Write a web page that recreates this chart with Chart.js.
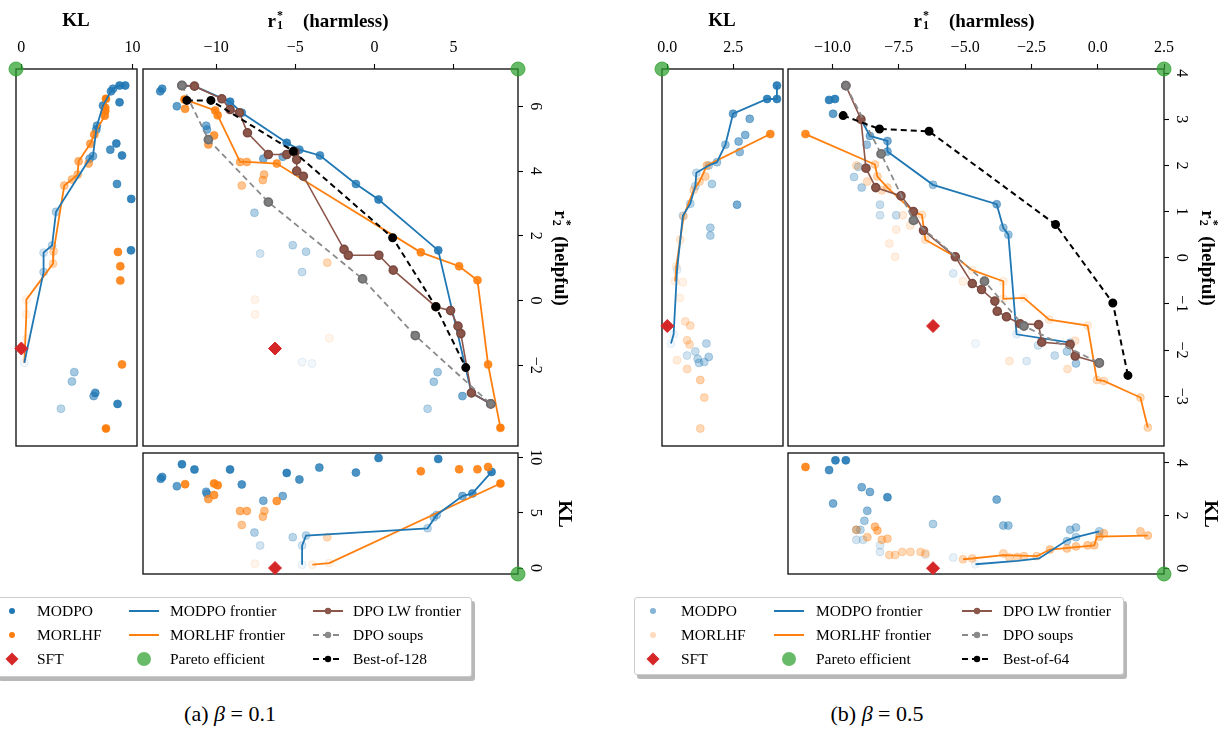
<!DOCTYPE html>
<html>
<head>
<meta charset="utf-8">
<script src="https://cdn.jsdelivr.net/npm/chart.js@4.4.1/dist/chart.umd.min.js"></script>
<style>
  body { margin: 0; width: 1227px; height: 732px; position: relative; overflow: hidden; background: #fff;
         font-family: "Liberation Serif", "Times New Roman", serif; color: #000; }
  canvas { position: absolute; }
  .t { position: absolute; white-space: nowrap; transform: translate(-50%, -50%); line-height: 1; }
  .v { transform: translate(-50%, -50%) rotate(90deg); }
  .b { font-weight: bold; font-size: 19px; }
  .ss { position: relative; display: inline-block; width: 8px; height: 19px; }
  .ss span { position: absolute; left: 1px; font-size: 12px; line-height: 12px; }
  .ss .u { top: 1px; }
  .ss .d { top: 11px; }
  .leg { position: absolute; border: 1px solid #ccc; border-radius: 3px; background: #fff;
         box-shadow: 3px 4px 0 rgba(0,0,0,0.28); }
  .li { position: absolute; font-size: 15.5px; transform: translateY(-50%); white-space: nowrap; }
  .mk { position: absolute; }
</style>
</head>
<body>
<script>
// ---------- data : beta = 0.1 ----------
// [r1, r2, weight]  weight = shade of the point in the original
var aModpo = [[-13.53,6.46,0.8],[-13.41,6.54,0.8],[-12.48,6.0,0.7],[-12.16,6.64,0.9],[-11.37,6.62,0.9],
  [-10.63,5.4,0.6],[-10.58,5.28,0.6],[-9.12,6.14,0.9],[-8.38,5.8,0.8],[-7.02,4.38,0.6],[-5.79,4.44,0.6],
  [-5.54,4.87,0.9],[-4.74,4.66,0.8],[-3.44,4.48,0.8],[-1.17,3.6,0.8],[0.26,3.12,0.9],[4.03,1.55,0.9],
  [-7.58,2.71,0.35],[-7.22,1.45,0.2],[-5.16,1.71,0.3],[-4.32,1.51,0.3],[-4.57,0.88,0.25],[-4.57,-1.9,0.06],
  [-3.94,-1.94,0.06],[3.99,-2.21,0.4],[3.75,-2.51,0.4],[5.56,-2.95,0.6],[3.36,-3.34,0.3],[6.13,-2.85,0.8],[7.35,-3.19,0.9]];
var aMorlhf = [[-12.0,6.21,1],[-11.96,5.92,0.8],[-10.06,5.87,0.9],[-9.9,5.72,0.9],[-10.13,5.1,0.8],[-10.49,4.82,0.7],
  [-8.49,4.28,0.6],[-8.06,4.28,0.6],[-6.17,4.23,0.8],[-6.97,3.89,0.5],[-7.05,3.72,0.5],[-8.38,3.55,0.45],
  [-2.98,1.17,0.3],[2.93,1.49,0.9],[5.35,1.06,0.9],[6.51,0.63,0.9],[7.18,-1.97,0.9],[7.96,-3.93,1],
  [-7.54,0.03,0.08],[-7.54,-0.43,0.08],[-2.85,-1.16,0.08]];
var aModpoFront = [[-12.16,6.64],[-11.37,6.62],[-9.12,6.14],[-8.38,5.8],[-5.54,4.87],[-4.74,4.66],[-3.44,4.48],
  [-1.17,3.6],[0.26,3.12],[4.03,1.55],[6.13,-2.85],[7.35,-3.19]];
var aMorlhfFront = [[-12.0,6.21],[-10.06,5.87],[-9.9,5.72],[-8.49,4.28],[-8.06,4.28],[-6.17,4.23],[2.93,1.49],
  [5.35,1.06],[6.51,0.63],[7.18,-1.97],[7.96,-3.93]];
var aLw = [[-12.16,6.64],[-11.37,6.62],[-9.64,6.23],[-9.12,5.9],[-8.53,5.8],[-8.02,5.18],[-6.7,4.51],[-5.54,4.51],
  [-5.02,4.58],[-4.91,4.35],[-4.91,4.0],[-4.49,3.84],[-1.92,1.58],[-1.65,1.4],[0.28,1.4],[1.19,0.94],[3.88,-0.19],
  [4.81,-0.31],[5.28,-0.79],[5.46,-1.02],[6.13,-2.85],[7.35,-3.19]];
var aSoup = [[-12.16,6.64],[-10.49,4.97],[-6.7,3.04],[-0.75,0.67],[2.58,-1.08],[7.35,-3.19]];
var aBon = [[-11.85,6.18],[-10.33,6.18],[-5.12,4.61],[1.15,1.94],[3.88,-0.19],[5.77,-2.07]];
var aSft = [[-6.28,-1.48]];
// [KL, r2, weight]
var aKlModpo = [[9.34,6.64,0.9],[8.83,6.64,0.9],[8.24,6.54,0.8],[8.06,6.46,0.8],[8.83,6.12,0.9],[7.34,6.02,0.8],
  [6.8,5.4,0.7],[6.74,5.28,0.7],[8.54,4.85,0.9],[8.0,4.66,0.8],[9.05,4.48,0.9],[6.44,4.46,0.6],[6.14,4.38,0.6],
  [8.6,3.6,0.8],[9.88,3.14,0.9],[3.12,2.74,0.35],[2.76,1.7,0.3],[2.0,1.48,0.2],[2.0,0.88,0.3],[9.86,1.55,0.9],
  [0.27,-1.92,0.06],[4.76,-2.21,0.4],[4.55,-2.5,0.4],[6.65,-2.85,0.8],[6.5,-2.95,0.6],[8.65,-3.19,0.9],[3.56,-3.34,0.3]];
var aKlMorlhf = [[7.61,6.23,1],[7.55,5.95,0.9],[7.55,5.85,0.9],[7.5,5.71,0.9],[6.56,5.13,0.8],[6.2,4.84,0.7],
  [5.15,4.3,0.6],[6.05,4.23,0.6],[5.06,3.89,0.5],[4.55,3.74,0.5],[3.86,3.55,0.45],[2.9,1.52,0.3],[2.85,1.14,0.3],
  [0.45,0.03,0.08],[0.45,-0.43,0.08],[0.5,-1.18,0.08],[8.69,1.5,0.9],[8.9,1.06,0.9],[8.9,0.62,0.9],
  [9.05,-1.97,0.9],[7.61,-3.95,1]];
var aKlModpoFront = [[9.34,6.64],[8.83,6.64],[8.24,6.54],[8.06,6.46],[7.34,6.02],[6.8,5.4],[6.74,5.28],[6.44,4.46],
  [6.14,4.38],[3.12,2.74],[2.76,1.7],[2.0,1.48],[2.0,0.88],[0.27,-1.92]];
var aKlMorlhfFront = [[7.61,6.23],[7.55,5.95],[7.5,5.71],[6.56,5.13],[6.2,4.84],[5.15,4.3],[5.06,3.89],[4.55,3.74],
  [3.86,3.55],[2.9,1.52],[2.85,1.14],[0.45,0.03],[0.45,-0.43],[0.27,-1.92]];
var aKlSft = [[0,-1.48]];
// [r1, KL, weight]
var aBotModpo = [[-13.5,8.06,0.8],[-13.41,8.23,0.8],[-12.16,9.37,0.9],[-11.37,8.9,0.9],[-12.48,7.39,0.7],
  [-9.12,8.9,0.9],[-8.38,7.55,0.8],[-10.63,6.88,0.6],[-10.58,6.7,0.6],[-7.02,6.08,0.6],[-5.79,6.5,0.6],
  [-5.54,8.59,0.9],[-4.74,8.0,0.8],[-3.48,9.07,0.8],[-1.17,8.62,0.8],[0.26,9.94,0.9],[4.03,9.85,0.9],
  [7.4,8.68,0.9],[6.19,6.74,0.8],[5.56,6.5,0.6],[3.93,4.79,0.4],[3.75,4.58,0.4],[3.36,3.59,0.3],
  [-7.58,3.2,0.35],[-7.22,2.03,0.2],[-5.16,2.78,0.3],[-4.32,2.93,0.3],[-4.57,2.03,0.2],[-4.57,0.3,0.06]];
var aBotMorlhf = [[-11.96,7.57,0.9],[-10.13,7.64,0.9],[-9.9,7.48,0.9],[-10.49,6.23,0.7],[-10.13,6.59,0.8],
  [-8.49,5.15,0.6],[-8.06,5.15,0.6],[-6.95,5.15,0.5],[-7.05,4.64,0.5],[-6.17,6.05,0.8],[-8.38,3.89,0.45],
  [-2.98,2.78,0.3],[2.93,8.74,0.9],[5.35,8.92,0.9],[6.51,8.92,0.9],[7.18,9.13,0.9],[7.96,7.64,1],
  [-7.54,0.39,0.08],[-2.85,0.45,0.08],[-3.92,0.3,0.08]];
var aBotModpoFront = [[7.4,8.68],[6.19,6.74],[5.56,6.5],[3.93,4.79],[3.36,3.59],[-4.32,2.93],[-4.57,2.03],[-4.57,0.3]];
var aBotMorlhfFront = [[7.96,7.64],[-2.85,0.45],[-3.92,0.3]];
var aBotSft = [[-6.28,0]];
// ideal point [r1, r2, KL] and ticks
var aIdeal = [9.07, 7.15, -0.48];
var aR1Ticks = [-10, -5, 0, 5];
var aR2Ticks = [-2, 0, 2, 4, 6];
var aKlTicks = [0, 10];
var aBotTicks = [0, 5, 10];

// ---------- data : beta = 0.5 ----------
var bModpo = [[-10.13,3.42,0.9],[-9.91,3.44,0.9],[-9.98,3.12,0.7],[-8.59,2.64,0.6],[-7.93,2.53,0.6],[-7.93,2.3,0.6],
  [-8.71,2.45,0.45],[-9.03,1.97,0.3],[-9.19,1.75,0.3],[-8.9,1.52,0.35],[-6.21,1.58,0.45],[-3.81,1.16,0.6],
  [-3.56,0.65,0.45],[-3.37,0.5,0.45],[-8.21,1.15,0.25],[-8.21,0.92,0.2],[-7.6,0.92,0.25],[-5.45,-0.34,0.15],
  [-3.06,-1.66,0.1],[-2.25,-1.9,0.2],[-1.62,-2.12,0.25],[-1.16,-2.03,0.35],[-0.82,-2.29,0.4],[-2.68,-2.24,0.15],
  [-4.61,-1.86,0.06],[-1.04,-1.84,0.35]];
var bMorlhf = [[-11.02,2.68,0.9],[-8.4,2.02,0.3],[-8.31,1.76,0.3],[-7.93,1.52,0.3],[-9.1,2.0,0.25],[-8.69,1.65,0.25],
  [-8.14,1.46,0.25],[-6.91,0.98,0.2],[-6.63,0.93,0.2],[-7.35,0.92,0.15],[-7.07,0.7,0.15],[-7.6,0.61,0.12],
  [-7.86,0.31,0.12],[-7.64,0.02,0.12],[-6.5,0.39,0.2],[-5.37,0.02,0.2],[-4.73,-0.27,0.1],[-3.56,-0.51,0.1],
  [-3.56,-0.89,0.1],[-2.78,-0.87,0.1],[-1.83,-1.34,0.15],[-0.38,-1.47,0.15],[-5.08,-0.51,0.1],[-3.33,-2.24,0.15],
  [-1.14,-2.41,0.2],[-0.85,-1.8,0.2],[-0.03,-2.65,0.25],[0.23,-2.67,0.25],[1.61,-3.03,0.3],[1.89,-3.68,0.3]];
var bModpoFront = [[-8.93,3.0],[-8.59,2.64],[-7.93,2.53],[-7.93,2.3],[-6.21,1.58],[-3.81,1.16],[-3.56,0.65],
  [-3.37,0.5],[-3.06,-1.66],[-1.04,-1.84]];
var bMorlhfFront = [[-11.02,2.68],[-8.4,2.02],[-8.31,1.76],[-7.93,1.52],[-6.91,0.98],[-6.63,0.93],[-6.5,0.39],
  [-5.37,0.02],[-4.73,-0.27],[-3.56,-0.51],[-3.56,-0.89],[-2.78,-0.87],[-1.83,-1.34],[-0.38,-1.47],[-0.03,-2.65],
  [0.23,-2.67],[1.61,-3.03],[1.89,-3.68]];
var bLw = [[-9.5,3.73],[-8.93,3.0],[-8.74,1.94],[-8.37,1.52],[-7.42,1.34],[-6.95,1.0],[-6.57,0.59],[-5.37,0.02],
  [-4.73,-0.56],[-4.38,-0.69],[-3.88,-0.94],[-3.79,-1.16],[-3.44,-1.28],[-2.93,-1.43],[-2.23,-1.45],[-2.11,-1.83],
  [-1.04,-1.88],[-0.85,-2.13],[0.06,-2.28]];
var bSoup = [[-9.5,3.73],[-8.17,2.25],[-6.95,0.81],[-4.27,-0.51],[-2.78,-1.48],[0.06,-2.28]];
var bBon = [[-9.6,3.08],[-8.23,2.79],[-6.36,2.74],[-1.59,0.72],[0.57,-0.98],[1.14,-2.55]];
var bSft = [[-6.21,-1.48]];
var bKlModpo = [[4.15,3.73,0.9],[4.15,3.44,0.9],[3.78,3.44,0.9],[2.49,3.12,0.7],[3.12,3.01,0.6],[2.95,2.66,0.55],
  [2.7,2.52,0.55],[2.74,2.29,0.5],[2.2,2.45,0.45],[1.88,2.07,0.4],[1.57,2.0,0.3],[1.1,1.84,0.25],[1.06,1.55,0.25],
  [1.69,1.6,0.35],[0.87,1.17,0.3],[2.64,1.15,0.6],[1.63,0.65,0.35],[1.63,0.48,0.35],[0.59,0.91,0.2],
  [0.37,-0.26,0.1],[0.24,-1.66,0.06],[0.14,-1.86,0.06],[1.48,-1.86,0.3],[1.06,-2.03,0.25],[0.75,-2.12,0.2],
  [1.57,-2.15,0.35],[1.15,-2.19,0.3],[1.4,-2.26,0.3],[1.2,-2.28,0.3]];
var bKlMorlhf = [[3.9,2.68,0.9],[1.5,2.0,0.4],[1.44,1.76,0.35],[1.22,1.65,0.3],[1.0,1.47,0.25],[0.62,0.9,0.2],
  [0.49,0.39,0.15],[0.34,-0.19,0.1],[0.3,-0.51,0.1],[0.59,-0.53,0.1],[0.47,-0.87,0.1],[0.68,-1.38,0.2],
  [0.87,-1.47,0.25],[0.75,-1.79,0.25],[0.84,-1.88,0.25],[0.37,-2.22,0.15],[0.75,-2.41,0.25],[1.25,-2.65,0.35],
  [1.4,-3.03,0.3],[1.25,-3.7,0.3]];
var bKlModpoFront = [[4.15,3.73],[4.15,3.44],[3.78,3.44],[2.49,3.12],[2.2,2.45],[1.88,2.07],[1.57,2.0],[1.1,1.84],
  [1.06,1.55],[0.87,1.17],[0.59,0.91],[0.37,-0.26],[0.24,-1.66],[0.14,-1.86]];
var bKlMorlhfFront = [[3.9,2.68],[1.5,2.0],[1.22,1.65],[1.0,1.47],[0.62,0.9],[0.49,0.39],[0.34,-0.19],[0.3,-0.51]];
var bKlSft = [[0,-1.48]];
var bBotModpo = [[-9.89,4.1,0.9],[-9.5,4.1,0.9],[-10.13,3.73,0.8],[-8.9,3.08,0.6],[-8.59,2.9,0.6],[-7.93,2.7,0.8],
  [-9.98,2.46,0.6],[-8.69,2.18,0.5],[-8.8,1.8,0.4],[-9.1,1.46,0.3],[-8.95,1.46,0.3],[-9.1,1.08,0.2],[-8.85,1.08,0.2],
  [-8.21,0.87,0.15],[-8.21,0.62,0.15],[-6.21,1.68,0.35],[-3.81,2.61,0.6],[-3.56,1.62,0.45],[-3.37,1.62,0.45],
  [-1.04,1.46,0.4],[-0.82,1.55,0.4],[-1.16,1.03,0.35],[-0.82,1.18,0.35],[0.06,1.4,0.35],[-6.5,0.5,0.08],
  [-5.45,0.41,0.1],[-4.61,0.15,0.06]];
var bBotMorlhf = [[-11.02,3.85,0.9],[-8.4,1.58,0.5],[-8.31,1.43,0.5],[-9.1,1.46,0.4],[-8.69,1.18,0.4],[-8.14,1.08,0.4],
  [-7.93,1.12,0.4],[-7.86,0.5,0.3],[-7.64,0.5,0.3],[-7.37,0.62,0.3],[-7.06,0.62,0.3],[-6.68,0.62,0.3],[-6.5,0.56,0.3],
  [-5.08,0.34,0.3],[-4.73,0.37,0.3],[-3.56,0.56,0.3],[-3.33,0.41,0.3],[-3.03,0.43,0.3],[-2.78,0.46,0.3],
  [-2.3,0.46,0.3],[-1.8,0.71,0.4],[-1.16,0.75,0.4],[-0.82,0.83,0.4],[-0.38,0.87,0.4],[-0.13,0.87,0.4],
  [0.06,1.2,0.4],[0.23,1.33,0.4],[1.61,1.4,0.4],[1.89,1.24,0.4]];
var bBotModpoFront = [[-4.61,0.15],[-3.03,0.28],[-2.21,0.37],[-1.16,1.06],[-0.82,1.18],[0.06,1.4]];
var bBotMorlhfFront = [[-5.08,0.34],[-4.73,0.37],[-3.56,0.5],[-2.28,0.46],[-1.8,0.71],[-0.13,0.87],[-0.03,1.2],[1.89,1.24]];
var bBotSft = [[-6.21,0]];
var bIdeal = [2.5, 4.09, -0.2];
var bR1Ticks = [-10, -7.5, -5, -2.5, 0, 2.5];
var bR2Ticks = [-3, -2, -1, 0, 1, 2, 3, 4];
var bKlTicks = [0, 2.5];
var bBotTicks = [0, 2, 4];

// legend / caption texts
var legendLabels = [['MODPO', 'MODPO frontier', 'DPO LW frontier'],
                    ['MORLHF', 'MORLHF frontier', 'DPO soups'],
                    ['SFT', 'Pareto efficient', 'Best-of-128']];
var legendLabelsB = [['MODPO', 'MODPO frontier', 'DPO LW frontier'],
                     ['MORLHF', 'MORLHF frontier', 'DPO soups'],
                     ['SFT', 'Pareto efficient', 'Best-of-64']];

// ---------- drawing ----------
var FONT = '"Liberation Serif", "Times New Roman", serif';
var M = 48;
var BLUE = '31,119,180', ORANGE = '255,127,14';

var fmt = function (v, dec) {
    return (v < 0 ? '\u2212' : '') + Math.abs(v).toFixed(dec || 0);
};

var pts = function (arr) {
    return arr.map(function (p) { return { x: p[0], y: p[1], w: p.length > 2 ? p[2] : 1 }; });
};

var alphaOf = function (ctx) {
    return ctx.raw && ctx.raw.w !== undefined ? Math.max(0.06, ctx.raw.w) : 1;
};

var scat = function (arr, rgb) {
    return {
        data: pts(arr), showLine: false, pointRadius: 4,
        pointBackgroundColor: function (ctx) { return 'rgba(' + rgb + ',' + alphaOf(ctx) + ')'; },
        pointBorderColor: function (ctx) { return 'rgba(' + rgb + ',' + Math.min(1, alphaOf(ctx) + 0.1) + ')'; },
        pointBorderWidth: 0.6
    };
};

var line = function (arr, color, extra) {
    return Object.assign({
        data: pts(arr), showLine: true, borderColor: color, backgroundColor: color,
        pointBackgroundColor: color, pointBorderColor: color, borderWidth: 1.8, pointRadius: 0, tension: 0
    }, extra || {});
};

var pareto = function (x, y) {
    return { data: [{ x: x, y: y }], showLine: false, pointRadius: 7, clip: false,
             pointBackgroundColor: 'rgba(44,160,44,0.72)', pointBorderColor: 'rgba(44,160,44,0.8)' };
};

var sft = function (arr) {
    return { data: pts(arr), showLine: false, pointStyle: 'rectRot', pointRadius: 6.5, clip: false,
             pointBackgroundColor: '#d62728', pointBorderColor: '#d62728' };
};

var frame = {
    id: 'frame',
    beforeDatasetsDraw: function (chart) {
        var a = chart.chartArea, ctx = chart.ctx;
        ctx.save();
        ctx.strokeStyle = '#1a1a1a';
        ctx.lineWidth = 1.4;
        ctx.strokeRect(a.left, a.top, a.right - a.left, a.bottom - a.top);
        ctx.restore();
    }
};

// right-hand tick labels are rotated like in the original
var rotTicks = {
    id: 'rotTicks',
    afterDraw: function (chart, args, o) {
        var s = chart.scales.y;
        if (!s || !s.options.display) return;
        var ctx = chart.ctx;
        ctx.save();
        ctx.font = '16px ' + FONT;
        ctx.fillStyle = '#000';
        ctx.textAlign = 'center';
        ctx.textBaseline = 'middle';
        s.ticks.forEach(function (t) {
            ctx.save();
            ctx.translate(chart.chartArea.right + 17, s.getPixelForValue(t.value));
            ctx.rotate(Math.PI / 2);
            ctx.fillText(fmt(t.value, o.dec), 0, 0);
            ctx.restore();
        });
        ctx.restore();
    }
};

var axis = function (horiz, lim, ticks, dec) {
    return {
        type: 'linear', position: horiz ? 'top' : 'right', min: lim[0], max: lim[1], display: !!ticks,
        afterBuildTicks: function (s) { if (ticks) s.ticks = ticks.map(function (v) { return { value: v }; }); },
        afterFit: function (s) {
            var size = ticks ? M : 0;
            if (horiz) s.height = size; else s.width = size;
        },
        grid: { drawOnChartArea: false, drawTicks: true, tickLength: 5, tickWidth: 1.1, color: '#000', tickColor: '#000' },
        border: { display: false },
        ticks: { display: horiz, color: '#000', padding: 7, maxRotation: 0, minRotation: 0,
                 font: { family: FONT, size: 16 }, callback: function (v) { return fmt(v, dec); } }
    };
};

var panel = function (box, o) {
    var c = document.createElement('canvas');
    var W = box.w + 2 * M, H = box.h + 2 * M;
    c.width = W; c.height = H;
    c.style.left = (box.x - M) + 'px'; c.style.top = (box.y - M) + 'px';
    c.style.width = W + 'px'; c.style.height = H + 'px';
    document.body.appendChild(c);
    new Chart(c, {
        type: 'scatter',
        data: { datasets: o.datasets },
        options: {
            responsive: false, animation: false, devicePixelRatio: 1,
            layout: { autoPadding: false, padding: { left: M, bottom: M, top: o.xTicks ? 0 : M, right: o.yTicks ? 0 : M } },
            plugins: { legend: { display: false }, tooltip: { enabled: false }, rotTicks: { dec: o.yDec || 0 } },
            scales: { x: axis(true, o.xLim, o.xTicks, o.xDec), y: axis(false, o.yLim, o.yTicks, o.yDec) }
        },
        plugins: [frame, rotTicks]
    });
};

// datasets, first one drawn on top
var mainSets = function (d, ideal) {
    return [
        pareto(ideal[0], ideal[1]),
        sft(d.sft),
        line(d.bon, '#000', { borderDash: [6, 4], borderWidth: 2, pointRadius: 3.5 }),
        line(d.soup, '#8a8a8a', { borderDash: [6, 4], pointRadius: 4, pointBackgroundColor: '#7f7f7f', pointBorderColor: '#6f6f6f' }),
        line(d.lw, '#8c564b', { borderWidth: 1.6, pointRadius: 4, pointBorderColor: '#7a4a40' }),
        line(d.modpoF, 'rgb(' + BLUE + ')'),
        line(d.morlhfF, 'rgb(' + ORANGE + ')'),
        scat(d.morlhf, ORANGE),
        scat(d.modpo, BLUE)
    ];
};
var sideSets = function (d, px, py) {
    return [
        pareto(px, py),
        sft(d.sft),
        line(d.modpoF, 'rgb(' + BLUE + ')'),
        line(d.morlhfF, 'rgb(' + ORANGE + ')'),
        scat(d.morlhf, ORANGE),
        scat(d.modpo, BLUE)
    ];
};

// ---- beta = 0.1 ----
var aR1Lim = [-14.62, aIdeal[0]], aR2Lim = [-4.49, aIdeal[1]], aKlLim = [aIdeal[2], 10.4];
panel({ x: 143, y: 69, w: 375, h: 377 }, {
    xLim: aR1Lim, yLim: aR2Lim, xTicks: aR1Ticks, yTicks: aR2Ticks,
    datasets: mainSets({ modpo: aModpo, morlhf: aMorlhf, modpoF: aModpoFront, morlhfF: aMorlhfFront,
                         lw: aLw, soup: aSoup, bon: aBon, sft: aSft }, aIdeal)
});
panel({ x: 16, y: 69, w: 121, h: 377 }, {
    xLim: aKlLim, yLim: aR2Lim, xTicks: aKlTicks,
    datasets: sideSets({ modpo: aKlModpo, morlhf: aKlMorlhf, modpoF: aKlModpoFront, morlhfF: aKlMorlhfFront,
                         sft: aKlSft }, aIdeal[2], aIdeal[1])
});
panel({ x: 143, y: 453, w: 375, h: 121 }, {
    xLim: aR1Lim, yLim: [aIdeal[2] - 0.06, 10.39], yTicks: aBotTicks,
    datasets: sideSets({ modpo: aBotModpo, morlhf: aBotMorlhf, modpoF: aBotModpoFront, morlhfF: aBotMorlhfFront,
                         sft: aBotSft }, aIdeal[0], aIdeal[2] - 0.06)
});

// ---- beta = 0.5 ----
var bR1Lim = [-11.68, bIdeal[0]], bR2Lim = [-4.08, bIdeal[1]], bKlLim = [bIdeal[2], 4.38];
panel({ x: 788, y: 69, w: 376, h: 377 }, {
    xLim: bR1Lim, yLim: bR2Lim, xTicks: bR1Ticks, yTicks: bR2Ticks, xDec: 1,
    datasets: mainSets({ modpo: bModpo, morlhf: bMorlhf, modpoF: bModpoFront, morlhfF: bMorlhfFront,
                         lw: bLw, soup: bSoup, bon: bBon, sft: bSft }, bIdeal)
});
panel({ x: 662, y: 69, w: 121, h: 377 }, {
    xLim: bKlLim, yLim: bR2Lim, xTicks: bKlTicks, xDec: 1,
    datasets: sideSets({ modpo: bKlModpo, morlhf: bKlMorlhf, modpoF: bKlModpoFront, morlhfF: bKlMorlhfFront,
                         sft: bKlSft }, bIdeal[2], bIdeal[1])
});
panel({ x: 788, y: 453, w: 376, h: 121 }, {
    xLim: bR1Lim, yLim: [bIdeal[2] - 0.02, 4.38], yTicks: bBotTicks,
    datasets: sideSets({ modpo: bBotModpo, morlhf: bBotMorlhf, modpoF: bBotModpoFront, morlhfF: bBotMorlhfFront,
                         sft: bBotSft }, bIdeal[0], bIdeal[2] - 0.02)
});

// ---------- texts ----------
var txt = function (html, x, y, cls, style) {
    var d = document.createElement('div');
    d.className = 't ' + (cls || '');
    d.innerHTML = html;
    d.style.left = x + 'px'; d.style.top = y + 'px';
    if (style) d.style.cssText += style;
    document.body.appendChild(d);
};
var rr = function (n) { return 'r<span class="ss"><span class="u">*</span><span class="d">' + n + '</span></span>'; };
txt('KL', 76, 19, 'b');
txt(rr(1) + '&ensp;&ensp;(harmless)', 328, 19, 'b');
txt(rr(2) + '&ensp;(helpful)', 563, 258, 'b v');
txt('KL', 565, 514, 'b v');
txt('KL', 722, 19, 'b');
txt(rr(1) + '&ensp;&ensp;(harmless)', 974, 19, 'b');
txt(rr(2) + '&ensp;(helpful)', 1210, 258, 'b v');
txt('KL', 1211, 514, 'b v');
txt('(a) <i>\u03B2</i> = 0.1', 230, 714, '', 'font-size:22px');
txt('(b) <i>\u03B2</i> = 0.5', 877, 714, '', 'font-size:22px');

// ---------- legends ----------
var svg = function (inner, cx, cy) {
    var d = document.createElement('div');
    d.className = 'mk';
    d.style.left = (cx - 17) + 'px'; d.style.top = (cy - 8) + 'px';
    d.innerHTML = '<svg width="34" height="16" xmlns="http://www.w3.org/2000/svg">' + inner + '</svg>';
    document.body.appendChild(d);
};
var markers = function (faint) {
    var dot = function (c) { return '<circle cx="17" cy="8" r="3" fill="' + c + '"/>'; };
    var ln = function (c, dash, pt) {
        return '<line x1="2" y1="8" x2="32" y2="8" stroke="' + c + '" stroke-width="2"' +
               (dash ? ' stroke-dasharray="6 4"' : '') + '/>' + (pt ? '<circle cx="17" cy="8" r="3.2" fill="' + c + '"/>' : '');
    };
    return [
        [dot('rgba(' + BLUE + ',' + (faint ? 0.55 : 1) + ')'), ln('rgb(' + BLUE + ')'), ln('#8c564b', false, true)],
        [dot('rgba(' + ORANGE + ',' + (faint ? 0.28 : 1) + ')'), ln('rgb(' + ORANGE + ')'), ln('#8a8a8a', true, true)],
        ['<polygon points="17,1.5 23.5,8 17,14.5 10.5,8" fill="#d62728"/>',
         '<circle cx="17" cy="8" r="7" fill="rgba(44,160,44,0.72)"/>', ln('#000', true, true)]
    ];
};
var legend = function (box, markX, textX, rows, labels, faint) {
    var d = document.createElement('div');
    d.className = 'leg';
    d.style.left = box[0] + 'px'; d.style.top = box[1] + 'px';
    d.style.width = box[2] + 'px'; d.style.height = box[3] + 'px';
    document.body.appendChild(d);
    var mk = markers(faint);
    for (var r = 0; r < 3; r++) {
        for (var c = 0; c < 3; c++) {
            svg(mk[r][c], markX[c], rows[r]);
            var t = document.createElement('div');
            t.className = 'li';
            t.textContent = labels[r][c];
            t.style.left = textX[c] + 'px'; t.style.top = rows[r] + 'px';
            document.body.appendChild(t);
        }
    }
};
legend([-4, 597, 474, 78], [12, 144, 328], [37, 170, 353], [611, 635, 659], legendLabels, false);
legend([634, 597, 488, 76], [653, 789, 977], [681, 816, 1003], [611, 635, 659], legendLabelsB, true);
</script>
</body>
</html>
